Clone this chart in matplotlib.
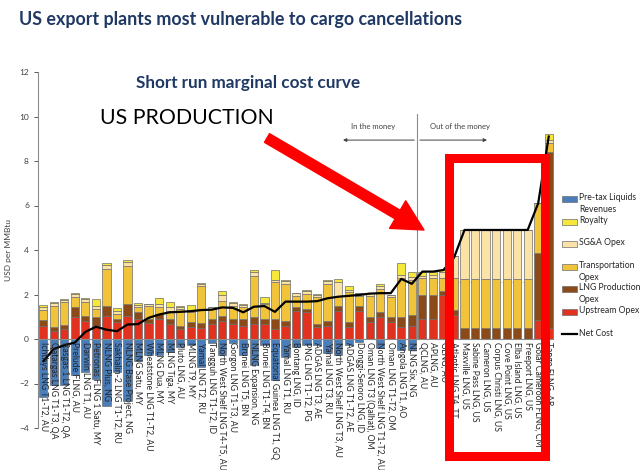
import numpy as np
import matplotlib.pyplot as plt
from matplotlib.patches import Rectangle, FancyArrowPatch
from matplotlib.lines import Line2D

plt.rcParams['font.family'] = ['Lato', 'DejaVu Sans']

plants = [
    'Ichthys LNG T1-T2, AU', 'Qatargas LNG T1-T3, QA', 'Rasgas 1 LNG T1-T2, QA',
    'Prelude FLNG, AU', 'Darwin LNG T1, AU', 'Petronas FLNG 1 Satu, MY',
    'NLNG Plus, NG', 'Sakhalin-2 LNG T1-T2, RU', 'NLNG Base Project, NG',
    'MLNG Satu, MY', 'Wheatstone LNG T1-T2, AU', 'MLNG Dua, MY', 'MLNG Tiga, MY',
    'Pluto LNG, AU', 'MLNG T9, MY', 'Yamal LNG T2, RU', 'Tangguh LNG T1-T2, ID',
    'North West Shelf LNG T4-T5, AU', 'Gorgon LNG T1-T3, AU', 'Brunei LNG T5, BN',
    'NLNG Expansion, NG', 'Brunei LNG T1-T4, BN', 'Equatorial Guinea LNG T1, GQ',
    'Yamal LNG T1, RU', 'Bontang LNG, ID', 'PNG LNG T1-T2, PG', 'ADGAS LNG T3, AE',
    'Yamal LNG T3, RU', 'North West Shelf LNG T3, AU', 'ADGAS LNG T1-T2, AE',
    'Donggi-Senoro LNG, ID', 'Oman LNG T3 (Qalhat), OM',
    'North West Shelf LNG T1-T2, AU', 'Oman LNG T1-T2, OM', 'Angola LNG T1, AO',
    'NLNG Six, NG', 'QCLNG, AU', 'APLNG, AU', 'GLNG, AU', 'Atlantic LNG T4, TT',
    'Maxville LNG, US', 'Sabine Pass LNG, US', 'Cameron LNG, US',
    'Corpus Christi LNG, US', 'Cove Point LNG, US', 'Elba Island LNG, US',
    'Freeport LNG, US', 'Golar Cameroon FLNG, CM', 'Tango FLNG, AR',
]

upstream = [0.6, 0.38, 0.45, 0.98, 0.83, 0.6, 1.05, 0.75, 1.05, 0.9, 0.7, 0.9, 0.68,
            0.45, 0.53, 0.48, 0.68, 0.83, 0.68, 0.6, 0.68, 0.68, 0.45, 0.6, 1.28, 1.2,
            0.53, 0.6, 1.28, 0.53, 1.28, 0.75, 0.98, 0.75, 0.53, 0.6, 0.9, 0.9, 2.0,
            1.1, 0, 0, 0, 0, 0, 0, 0, 0.85, 0.5]
lng_prod = [0.26, 0.15, 0.2, 0.45, 0.22, 0.38, 0.45, 0.15, 0.53, 0.3, 0.2, 0.23, 0.22,
            0.15, 0.22, 0.22, 0.22, 0.22, 0.22, 0.3, 0.3, 0.22, 0.45, 0.23, 0.15, 0.15,
            0.15, 0.23, 0.22, 0.22, 0.22, 0.25, 0.22, 0.23, 0.44, 0.48, 1.1, 1.1, 0.15,
            0.2, 0.5, 0.5, 0.5, 0.5, 0.5, 0.5, 0.5, 3.0, 7.9]
transport = [0.45, 0.97, 1.0, 0.45, 0.6, 0.37, 1.65, 0.23, 1.72, 0.23, 0.6, 0.3, 0.38,
             0.75, 0.45, 1.66, 0.45, 0.68, 0.6, 0.53, 1.87, 0.68, 1.65, 1.65, 0.52, 0.68,
             1.2, 1.65, 0.45, 1.35, 0.45, 0.95, 1.05, 0.9, 1.76, 1.55, 0.75, 0.75, 0.6,
             1.45, 2.2, 2.2, 2.2, 2.2, 2.2, 2.2, 2.2, 2.25, 0.4]
sga = [0.13, 0.1, 0.12, 0.15, 0.15, 0.15, 0.18, 0.15, 0.15, 0.1, 0.08, 0.15, 0.15,
       0.1, 0.1, 0.12, 0.08, 0.27, 0.12, 0.1, 0.15, 0.05, 0.08, 0.12, 0.12, 0.12,
       0.12, 0.12, 0.6, 0.1, 0.1, 0.1, 0.11, 0.1, 0.14, 0.15, 0.1, 0.12, 0.25,
       1.0, 2.2, 2.2, 2.2, 2.2, 2.2, 2.2, 2.2, 0, 0.15]
royalty = [0.07, 0.05, 0.05, 0.05, 0.05, 0.3, 0.07, 0.1, 0.08, 0.09, 0.0, 0.25, 0.22,
           0.03, 0.23, 0.04, 0.0, 0.15, 0.04, 0.04, 0.08, 0.27, 0.45, 0.06, 0.0, 0.05,
           0.03, 0.05, 0.15, 0.16, 0.0, 0.0, 0.09, 0.0, 0.55, 0.22, 0.15, 0.13, 0.1,
           0, 0, 0, 0, 0, 0, 0, 0, 0, 0.25]
liquids = [-2.6, -2.07, -2.07, -1.62, -1.47, -1.8, -3.0, -1.5, -2.8, -1.0, -0.72, -0.72,
           -0.57, -0.35, -0.27, -1.28, -0.2, -0.72, -0.2, -0.72, -1.17, -0.27, -1.85,
           -0.8, -0.35, -0.27, -0.27, -0.65, -0.72, -0.27, -0.12, 0, -0.42, 0, -0.5,
           -0.5, 0, 0, 0, 0, 0, 0, 0, 0, 0, 0, 0, 0, 0]
net_cost = [-1.0, -0.45, -0.28, -0.16, 0.32, 0.55, 0.42, 0.35, 0.65, 0.67, 0.95, 1.1,
            1.2, 1.22, 1.25, 1.3, 1.32, 1.42, 1.4, 1.2, 1.45, 1.48, 1.22, 1.68, 1.68,
            1.68, 1.7, 1.83, 1.9, 1.94, 1.98, 2.04, 2.06, 2.06, 2.7, 2.48, 3.03, 3.03,
            3.1, 3.65, 4.9, 4.9, 4.9, 4.9, 4.9, 4.9, 4.9, 6.1, 9.1]

series_names = ['Pre-tax Liquids\nRevenues', 'Royalty', 'SG&A Opex', 'Transportation\nOpex',
                'LNG Production\nOpex', 'Upstream Opex']
series_colors = ['#4a7ebb', '#f6e73a', '#fbe3a8', '#f0c33a', '#8b4a18', '#e0321e']

W, H = 640, 470


def px(x, y):
    # pixel position (top-left origin) -> figure fraction
    return x / W, 1 - y / H


fig = plt.figure(figsize=(6.4, 4.7), dpi=100)
ax = fig.add_axes([38 / W, 1 - 428 / H, (554 - 38) / W, (428 - 72) / H])

x = np.arange(len(plants))
edge = dict(edgecolor='#6e6e6e', linewidth=0.5, width=0.78, zorder=2)
bottom = np.zeros(len(plants))
stack = [upstream, lng_prod, transport, sga, royalty]
stack_colors = series_colors[1:][::-1]
for vals, color in zip(stack, stack_colors):
    ax.bar(x, vals, bottom=bottom, color=color, **edge)
    bottom += np.array(vals)
ax.bar(x, liquids, color=series_colors[0], **edge)
ax.plot(x, net_cost, color='black', lw=1.6, zorder=4)

for i, name in enumerate(plants):
    ax.text(i, -0.12, name, rotation=270, ha='center', va='top', fontsize=6.2,
            color='#262626', zorder=5)

# in / out of the money divider
ax.plot([35.5, 35.5], [0, 10.1], color='#8c8c8c', lw=0.8, zorder=1)
ax.plot([35.5, 48.5], [2.56, 2.56], color='#c8c8c8', lw=0.6, ls=(0, (4, 3)), zorder=1)
ax.annotate('', xy=(28.2, 8.94), xytext=(35.5, 8.94),
            arrowprops=dict(arrowstyle='-|>', color='#404040', lw=0.7, mutation_scale=5))
ax.annotate('', xy=(42.4, 8.94), xytext=(35.5, 8.94),
            arrowprops=dict(arrowstyle='-|>', color='#404040', lw=0.7, mutation_scale=5))
ax.text(31.3, 9.57, 'In the money', fontsize=5.5, ha='center', va='center', color='#404040')
ax.text(39.6, 9.57, 'Out of the money', fontsize=5.5, ha='center', va='center', color='#404040')

ax.axhline(0, color='#8c8c8c', lw=0.8, zorder=3)
ax.set_xlim(-0.5, 48.5)
ax.set_ylim(-4, 12)
ax.set_yticks(range(-4, 13, 2))
ax.set_xticks([])
ax.tick_params(axis='y', labelsize=6, colors='#404040', length=3, width=0.6)
for s in ['top', 'right', 'bottom']:
    ax.spines[s].set_visible(False)
ax.spines['left'].set_color('#8c8c8c')
ax.spines['left'].set_linewidth(0.8)
ax.set_ylabel('USD per MMBtu', fontsize=6, color='#404040', labelpad=5)
ax.patch.set_alpha(0)

# legend drawn at the right
leg_y = [199, 222, 244, 267, 289, 312]
for name, color, y in zip(series_names, series_colors, leg_y):
    fx, fy = px(562, y + 3)
    fig.add_artist(Rectangle((fx, fy), 15 / W, 6 / H, transform=fig.transFigure,
                             facecolor=color, edgecolor='#6e6e6e', linewidth=0.5))
    tx, ty = px(579, y - 6)
    fig.text(tx, ty, name, fontsize=6.2, color='#262626', va='top', linespacing=1.4)
lx0, ly = px(562, 334)
lx1, _ = px(577, 334)
fig.add_artist(Line2D([lx0, lx1], [ly, ly], color='black', lw=1.6, transform=fig.transFigure))
tx, ty = px(579, 334)
fig.text(tx, ty, 'Net Cost', fontsize=6.2, color='#262626', va='center')

fig.text(*px(19, 20), 'US export plants most vulnerable to cargo cancellations',
         fontsize=12.9, fontweight='bold', color='#1f3864', va='center')
fig.text(*px(248, 83), 'Short run marginal cost curve', fontsize=12.3, fontweight='bold',
         color='#1f3864', ha='center', va='center')
fig.text(*px(100, 118), 'US PRODUCTION', fontsize=15.3, color='black', va='center')

# red call-outs
fig.add_artist(FancyArrowPatch(px(267, 138), px(424, 230), transform=fig.transFigure,
                               arrowstyle='simple,head_length=1.1,head_width=1.15,tail_width=0.36',
                               mutation_scale=20, color='#ff0000', shrinkA=0, shrinkB=0))
rx0, ry1 = px(449, 158)
rx1, ry0 = px(545, 456)
fig.add_artist(Rectangle((rx0, ry0), rx1 - rx0, ry1 - ry0, transform=fig.transFigure,
                         fill=False, edgecolor='#ff0000', linewidth=6.5))

fig.savefig('out.png', dpi=100)
